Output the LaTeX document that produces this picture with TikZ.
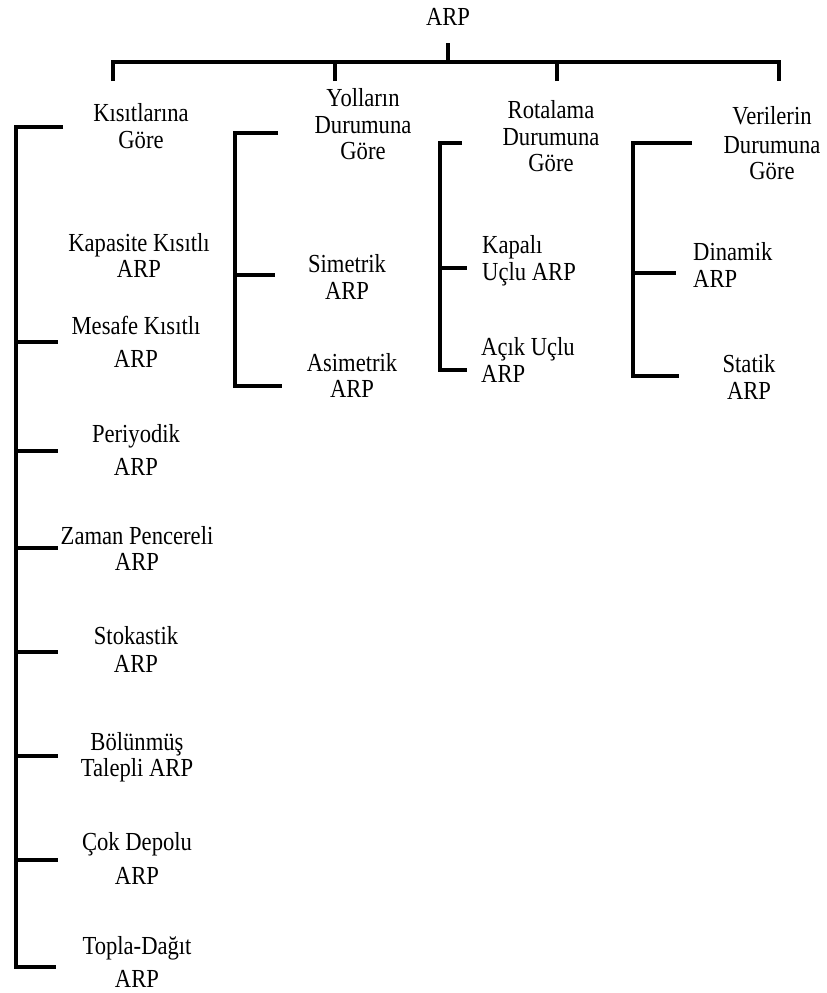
\documentclass[tikz,border=0pt]{standalone}
\usepackage{fontspec}
\setmainfont{Liberation Serif}[FakeStretch=0.87]
\setlength{\lineskiplimit}{-100pt}
\tikzset{
  lbl/.style={font=\fontsize{26}{25}\selectfont, align=center, inner sep=0pt},
  lblL/.style={lbl, align=left, anchor=west},
  bar/.style={line width=3.2pt, line join=miter},
}
\begin{document}
\begin{tikzpicture}[x=1pt, y=-1pt]
\useasboundingbox (0,0) rectangle (827,993);

% root
\node[lbl] (root) at (448,20) {\strut ARP};

% first level headings
\node[lbl] (kis) at (141,130) {\strut Kısıtlarına\\[2pt]\strut Göre};
\node[lbl] (yol) at (363,128) {\strut Yolların\\[2pt]\strut Durumuna\\[1pt]\strut Göre};
\node[lbl] (rot) at (551,139.5) {\strut Rotalama\\[2pt]\strut Durumuna\\[1pt]\strut Göre};
\node[lbl] (ver) at (772,147) {\strut Verilerin\\[4pt]\strut Durumuna\\[1pt]\strut Göre};

% branch by constraints
\node[lbl] (kap) at (139,259.5) {\strut Kapasite Kısıtlı\\[1pt]\strut ARP};
\node[lbl] (mes) at (136,345.5) {\strut Mesafe Kısıtlı\\[8pt]\strut ARP};
\node[lbl] (per) at (136,453.5) {\strut Periyodik\\[8pt]\strut ARP};
\node[lbl] (zam) at (137,552) {\strut Zaman Pencereli\\[1pt]\strut ARP};
\node[lbl] (sto) at (136,653) {\strut Stokastik\\[3pt]\strut ARP};
\node[lbl] (bol) at (137,758.5) {\strut Bölünmüş\\[1pt]\strut Talepli ARP};
\node[lbl] (cok) at (137,862) {\strut Çok Depolu\\[9pt]\strut ARP};
\node[lbl] (top) at (137,965.5) {\strut Topla-Dağıt\\[8pt]\strut ARP};

% branch by roads
\node[lbl] (sim) at (347,280.5) {\strut Simetrik\\[2pt]\strut ARP};
\node[lbl] (asi) at (352,379.5) {\strut Asimetrik\\[1pt]\strut ARP};

% branch by routing
\node[lblL] (kpl) at (482,262) {\strut Kapalı\\[2pt]\strut Uçlu ARP};
\node[lblL] (acik) at (481,363.5) {\strut Açık Uçlu\\[2pt]\strut ARP};

% branch by data
\node[lblL] (din) at (693,268.5) {\strut Dinamik\\[2pt]\strut ARP};
\node[lbl] (sta) at (749,380.5) {\strut Statik\\[2pt]\strut ARP};

% top-level connector
\coordinate (hub) at (448,62);
\coordinate (j1) at (113,62);
\coordinate (j4) at (779,62);
\coordinate (d1) at (113,81);
\coordinate (d2) at (335,81);
\coordinate (d3) at (557,81);
\coordinate (d4) at (779,81);
\draw[bar] ([yshift=-10.5pt]root.south) -- (hub);
\draw[bar] (d1) -- (j1) -- (j4) -- (d4);
\draw[bar] (d2) -- (d2 |- hub);
\draw[bar] (d3) -- (d3 |- hub);

% bracket: constraints
\coordinate (a0) at (63,127);
\coordinate (aT) at (16,127);
\coordinate (aB) at (16,967);
\coordinate (aE) at (56,967);
\draw[bar] (a0) -- (aT) -- (aB) -- (aE);
\foreach \yy in {342,451,548,652,756,860}
  \draw[bar] (16,\yy) -- (58,\yy);

% bracket: roads
\coordinate (b0) at (278,133);
\coordinate (bT) at (235,133);
\coordinate (bB) at (235,386);
\coordinate (bE) at (282,386);
\coordinate (bM) at (235,275);
\coordinate (bN) at (275,275);
\draw[bar] (b0) -- (bT) -- (bB) -- (bE);
\draw[bar] (bM) -- (bN);

% bracket: routing
\coordinate (c0) at (462,143);
\coordinate (cT) at (440,143);
\coordinate (cB) at (440,370);
\coordinate (cE) at (467,370);
\coordinate (cM) at (440,268);
\coordinate (cN) at (467,268);
\draw[bar] (c0) -- (cT) -- (cB) -- (cE);
\draw[bar] (cM) -- (cN);

% bracket: data
\coordinate (e0) at (692,143);
\coordinate (eT) at (633,143);
\coordinate (eB) at (633,376);
\coordinate (eE) at (679,376);
\coordinate (eM) at (633,273);
\coordinate (eN) at (676,273);
\draw[bar] (e0) -- (eT) -- (eB) -- (eE);
\draw[bar] (eM) -- (eN);
\end{tikzpicture}
\end{document}
